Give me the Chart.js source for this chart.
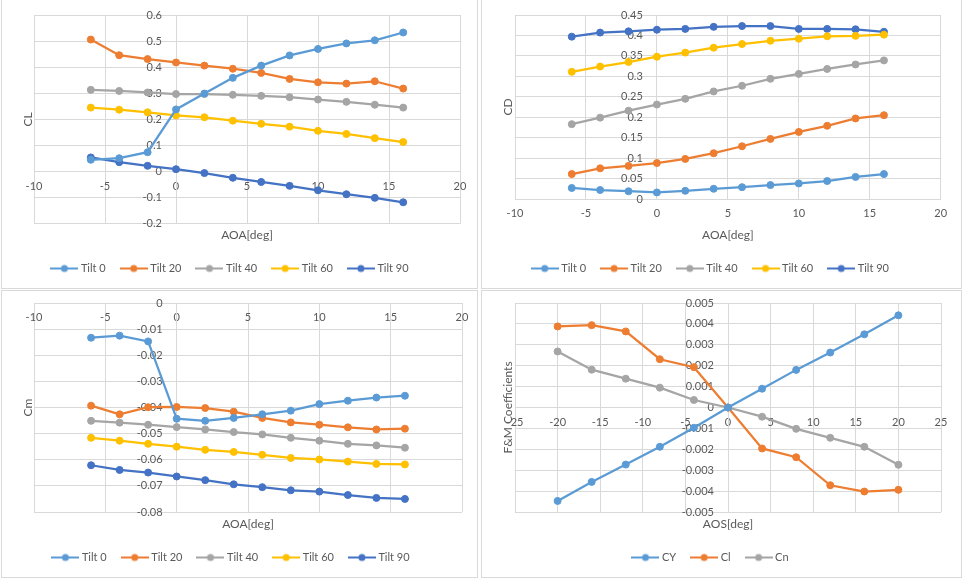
<!DOCTYPE html>
<html>
<head>
<meta charset="UTF-8">
<title>Coeficientes aerodinamicos</title>
<script src="https://cdn.jsdelivr.net/npm/chart.js@4.4.0/dist/chart.umd.min.js"></script>
<style>
  body { margin: 0; background: #fff; width: 962px; height: 581px; position: relative; overflow: hidden; }
  .painel { position: absolute; border: 1px solid #D9D9D9; box-sizing: border-box; }
  .painel canvas { display: block; }
</style>
</head>
<body>
<div class="painel" style="left:1px;top:-1px;width:477px;height:290px"><canvas id="g1" width="475" height="288"></canvas></div>
<div class="painel" style="left:481px;top:-1px;width:481px;height:290px"><canvas id="g2" width="479" height="288"></canvas></div>
<div class="painel" style="left:1px;top:290px;width:477px;height:288px"><canvas id="g3" width="475" height="286"></canvas></div>
<div class="painel" style="left:481px;top:290px;width:481px;height:288px"><canvas id="g4" width="479" height="286"></canvas></div>
<script>
// angulo de ataque e series por tilt
const aoa = [-6, -4, -2, 0, 2, 4, 6, 8, 10, 12, 14, 16];
const tilts = ["Tilt 0", "Tilt 20", "Tilt 40", "Tilt 60", "Tilt 90"];

const clTilt0  = [0.045, 0.051, 0.074, 0.238, 0.299, 0.359, 0.406, 0.445, 0.470, 0.491, 0.503, 0.533];
const clTilt20 = [0.506, 0.446, 0.431, 0.418, 0.406, 0.394, 0.378, 0.355, 0.342, 0.337, 0.346, 0.318];
const clTilt40 = [0.313, 0.309, 0.303, 0.297, 0.297, 0.294, 0.290, 0.285, 0.276, 0.267, 0.256, 0.245];
const clTilt60 = [0.245, 0.237, 0.227, 0.215, 0.208, 0.195, 0.183, 0.172, 0.156, 0.144, 0.128, 0.113];
const clTilt90 = [0.054, 0.036, 0.022, 0.009, -0.006, -0.024, -0.040, -0.055, -0.072, -0.087, -0.101, -0.118];

const cdTilt0  = [0.027, 0.022, 0.019, 0.016, 0.020, 0.025, 0.029, 0.034, 0.038, 0.044, 0.054, 0.061];
const cdTilt20 = [0.061, 0.075, 0.081, 0.088, 0.098, 0.112, 0.129, 0.147, 0.164, 0.179, 0.197, 0.205];
const cdTilt40 = [0.183, 0.199, 0.216, 0.231, 0.245, 0.263, 0.277, 0.294, 0.306, 0.318, 0.329, 0.339];
const cdTilt60 = [0.311, 0.324, 0.335, 0.348, 0.358, 0.370, 0.379, 0.387, 0.392, 0.398, 0.399, 0.402];
const cdTilt90 = [0.397, 0.407, 0.410, 0.414, 0.416, 0.421, 0.423, 0.423, 0.416, 0.416, 0.415, 0.409];

const cmTilt0  = [-0.0133, -0.0125, -0.0147, -0.0443, -0.0451, -0.0440, -0.0426, -0.0412, -0.0387, -0.0374, -0.0362, -0.0355];
const cmTilt20 = [-0.0393, -0.0426, -0.0399, -0.0398, -0.0402, -0.0416, -0.0440, -0.0457, -0.0466, -0.0476, -0.0484, -0.0481];
const cmTilt40 = [-0.0451, -0.0458, -0.0466, -0.0475, -0.0484, -0.0494, -0.0503, -0.0516, -0.0527, -0.0539, -0.0545, -0.0554];
const cmTilt60 = [-0.0516, -0.0527, -0.0539, -0.0550, -0.0562, -0.0570, -0.0581, -0.0593, -0.0599, -0.0607, -0.0616, -0.0618];
const cmTilt90 = [-0.0621, -0.0639, -0.0649, -0.0664, -0.0678, -0.0694, -0.0705, -0.0717, -0.0722, -0.0735, -0.0746, -0.0750];

// derrapagem
const aos = [-20, -16, -12, -8, -4, 0, 4, 8, 12, 16, 20];
const cY = [-0.00447, -0.00356, -0.00273, -0.00188, -0.00097, 0, 0.00090, 0.00180, 0.00263, 0.00350, 0.00441];
const cRol = [0.00388, 0.00394, 0.00364, 0.00231, 0.00193, 0, -0.00196, -0.00238, -0.00372, -0.00402, -0.00394];
const cN = [0.00268, 0.00181, 0.00138, 0.00095, 0.00036, 0, -0.00044, -0.00102, -0.00145, -0.00188, -0.00274];

const cores = ["#5B9BD5", "#ED7D31", "#A5A5A5", "#FFC000", "#4472C4"];
const cinzaTexto = "#595959";
const grade = "#D9D9D9";
const fonte = "Lato";

function pontos(xs, ys) {
  return xs.map(function(x, i) { return {x: x, y: ys[i]}; });
}

function fmt(v) {
  return String(Number(v.toFixed(5)));
}

// rotulo do eixo y afastado da linha do eixo
function fmtY(v) {
  return fmt(v) + "     ";
}

// traco com marcador para a legenda
function legendaLinha(cor) {
  const c = document.createElement("canvas");
  c.width = 28; c.height = 10;
  const g = c.getContext("2d");
  g.strokeStyle = cor; g.lineWidth = 2;
  g.beginPath(); g.moveTo(0, 5); g.lineTo(28, 5); g.stroke();
  g.fillStyle = cor;
  g.beginPath(); g.arc(14, 5, 3.5, 0, Math.PI * 2); g.fill();
  return c;
}

function grafico(id, nomes, series, cfg) {
  const datasets = series.map(function(s, i) {
    return {
      label: nomes[i], data: s, showLine: true,
      borderColor: cores[i], backgroundColor: cores[i],
      borderWidth: 2.25, pointRadius: 3.5, pointHoverRadius: 3.5,
      pointBorderWidth: 1, tension: 0
    };
  });
  const ticksFonte = {family: fonte, size: 11};
  new Chart(document.getElementById(id), {
    type: "scatter",
    data: {datasets: datasets},
    options: {
      responsive: false,
      animation: false,
      layout: {padding: {top: cfg.topo, right: cfg.direita, bottom: 4, left: 0}},
      plugins: {
        tooltip: {enabled: false},
        legend: {
          position: "bottom",
          labels: {
            usePointStyle: true, pointStyleWidth: 22, padding: 17,
            color: cinzaTexto, font: {family: fonte, size: 11},
            generateLabels: function(chart) {
              return chart.data.datasets.map(function(d, i) {
                return {text: d.label, pointStyle: legendaLinha(d.borderColor),
                  fillStyle: d.borderColor, strokeStyle: d.borderColor, lineWidth: 0,
                  hidden: false, datasetIndex: i, fontColor: cinzaTexto};
              });
            }
          }
        }
      },
      scales: {
        x: {
          type: "linear", position: {y: 0},
          min: cfg.xMin, max: cfg.xMax,
          ticks: {stepSize: cfg.xPasso, padding: 8, color: cinzaTexto, font: ticksFonte, maxRotation: 0, callback: fmt},
          grid: {color: grade, drawTicks: false},
          border: {color: grade}
        },
        y: {
          type: "linear", position: {x: 0},
          min: cfg.yMin, max: cfg.yMax,
          ticks: {stepSize: cfg.yPasso, color: cinzaTexto, font: ticksFonte, callback: fmtY},
          grid: {color: grade, drawTicks: false},
          border: {color: grade}
        },
        xt: {
          type: "linear", position: "bottom",
          ticks: {display: false}, grid: {display: false}, border: {display: false},
          title: {display: true, text: cfg.xTitulo, color: cinzaTexto, font: {family: fonte, size: 12}, padding: {top: 0, bottom: 3.8}},
          afterFit: function(s) { s.height = cfg.altX; }
        },
        yt: {
          type: "linear", position: "left",
          ticks: {display: false}, grid: {display: false}, border: {display: false},
          title: {display: true, text: cfg.yTitulo, color: cinzaTexto, font: {family: fonte, size: 12}, padding: {top: 18.8, bottom: 0}},
          afterFit: function(s) { s.width = cfg.largY; }
        }
      }
    }
  });
}

grafico("g1", tilts, [pontos(aoa, clTilt0), pontos(aoa, clTilt20), pontos(aoa, clTilt40), pontos(aoa, clTilt60), pontos(aoa, clTilt90)],
  {topo: 15, direita: 17, largY: 32, altX: 22.3, xMin: -10, xMax: 20, xPasso: 5, yMin: -0.2, yMax: 0.6, yPasso: 0.1, xTitulo: "AOA[deg]", yTitulo: "CL"});

grafico("g2", tilts, [pontos(aoa, cdTilt0), pontos(aoa, cdTilt20), pontos(aoa, cdTilt40), pontos(aoa, cdTilt60), pontos(aoa, cdTilt90)],
  {topo: 15, direita: 20.3, largY: 33, altX: 47, xMin: -10, xMax: 20, xPasso: 5, yMin: 0, yMax: 0.45, yPasso: 0.05, xTitulo: "AOA[deg]", yTitulo: "CD"});

grafico("g3", tilts, [pontos(aoa, cmTilt0), pontos(aoa, cmTilt20), pontos(aoa, cmTilt40), pontos(aoa, cmTilt60), pontos(aoa, cmTilt90)],
  {topo: 12, direita: 15, largY: 32, altX: 23, xMin: -10, xMax: 20, xPasso: 5, yMin: -0.08, yMax: 0, yPasso: 0.01, xTitulo: "AOA[deg]", yTitulo: "Cm"});

grafico("g4", ["CY", "Cl", "Cn"], [pontos(aos, cY), pontos(aos, cRol), pontos(aos, cN)],
  {topo: 12, direita: 20, largY: 33, altX: 23, xMin: -25, xMax: 25, xPasso: 5, yMin: -0.005, yMax: 0.005, yPasso: 0.001, xTitulo: "AOS[deg]", yTitulo: "F&M Coefficients"});
</script>
</body>
</html>
